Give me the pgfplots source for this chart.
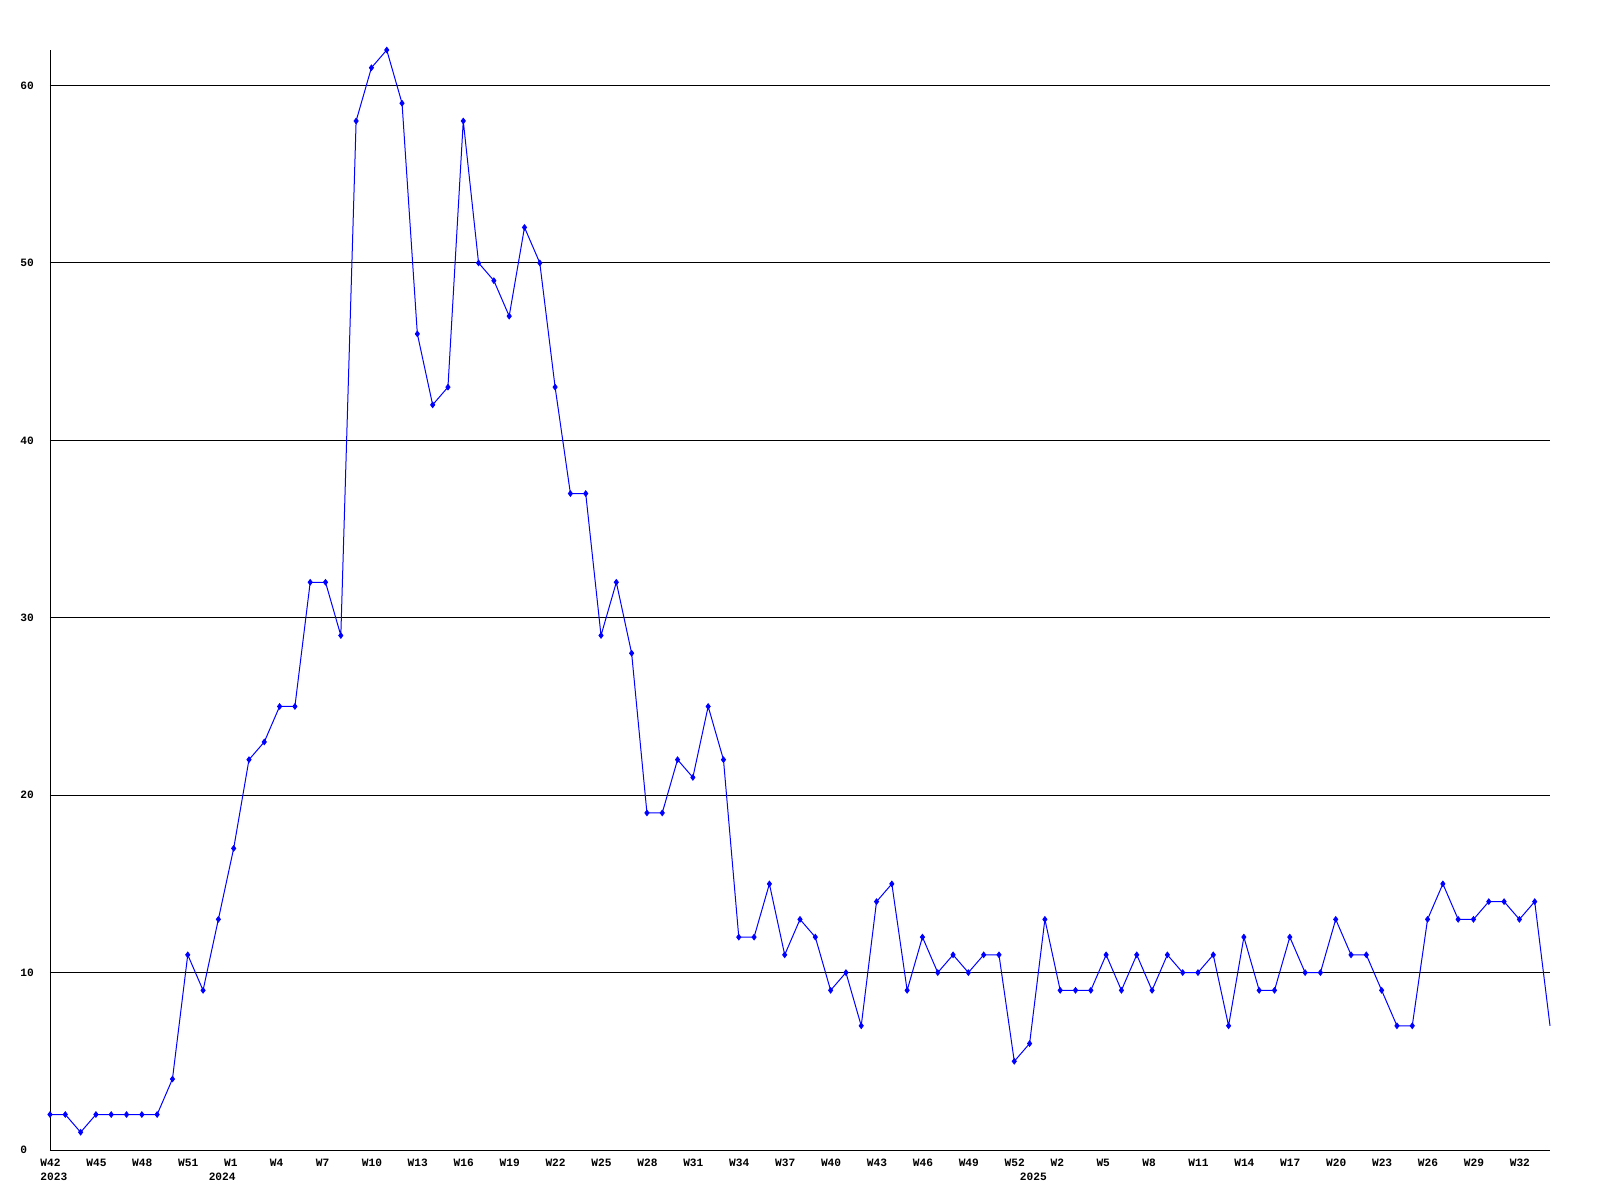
\documentclass[border=0pt]{standalone}
\usepackage{fontspec}
\setmainfont{Liberation Mono}
\newfontfamily\lmono[BoldFont={* Bold}]{Liberation Mono}
\usepackage{pgfplots}
\usepackage{pgfplotstable}
\pgfplotsset{compat=1.18}
\pgfplotstableread{
i v
0 2
1 2
2 1
3 2
4 2
5 2
6 2
7 2
8 4
9 11
10 9
11 13
12 17
13 22
14 23
15 25
16 25
17 32
18 32
19 29
20 58
21 61
22 62
23 59
24 46
25 42
26 43
27 58
28 50
29 49
30 47
31 52
32 50
33 43
34 37
35 37
36 29
37 32
38 28
39 19
40 19
41 22
42 21
43 25
44 22
45 12
46 12
47 15
48 11
49 13
50 12
51 9
52 10
53 7
54 14
55 15
56 9
57 12
58 10
59 11
60 10
61 11
62 11
63 5
64 6
65 13
66 9
67 9
68 9
69 11
70 9
71 11
72 9
73 11
74 10
75 10
76 11
77 7
78 12
79 9
80 9
81 12
82 10
83 10
84 13
85 11
86 11
87 9
88 7
89 7
90 13
91 15
92 13
93 13
94 14
95 14
96 13
97 14
98 7
}\datatable
\begin{document}
\begin{tikzpicture}
\useasboundingbox (-25bp,-25bp) rectangle (775bp,575bp);
\begin{axis}[
  at={(0,0)}, anchor=south west,
  scale only axis, width=750bp, height=550bp,
  xmin=0, xmax=98, ymin=0, ymax=62,
  enlargelimits=false, clip=false,
  axis x line=bottom, axis y line=left,
  axis line style={-, black, line width=0.5bp},
  major tick length=0pt,
  xtick={0,3,...,96},
  xticklabels={W42,W45,W48,W51,W1,W4,W7,W10,W13,W16,W19,W22,W25,W28,W31,W34,W37,W40,W43,W46,W49,W52,W2,W5,W8,W11,W14,W17,W20,W23,W26,W29,W32},
  extra x ticks={0,11,64},
  extra x tick labels={2023,2024,2025},
  extra x tick style={xticklabel style={yshift=-6.85bp}},
  ytick={0,10,...,60},
  ymajorgrids,
  grid style={black, line width=0.5bp},
  /pgf/number format/assume math mode=true,
  tick label style={font=\lmono\bfseries\fontsize{5.6bp}{6bp}\selectfont, inner sep=0pt},
  xticklabel style={anchor=north west, xshift=-5bp, yshift=-4.5bp},
  yticklabel style={anchor=west, xshift=-15bp},
]
\addplot[blue, line width=0.5bp, no markers] table[x=i, y=v] {\datatable};
\addplot[blue, only marks, mark=diamond*, mark size=1.4bp, skip coords between index={98}{99}] table[x=i, y=v] {\datatable};
\end{axis}
\end{tikzpicture}
\end{document}
